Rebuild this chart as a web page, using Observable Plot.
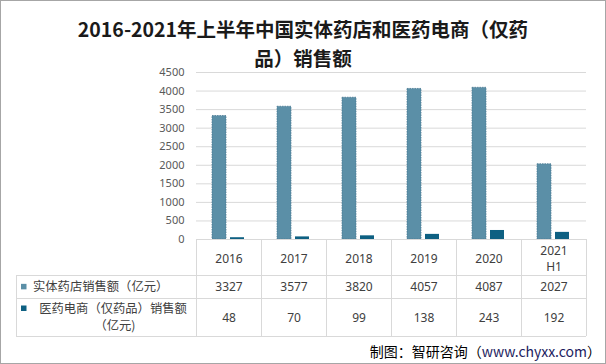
<!DOCTYPE html>
<html><head><meta charset="utf-8">
<script src="https://cdn.jsdelivr.net/npm/d3@7"></script>
<script src="https://cdn.jsdelivr.net/npm/@observablehq/plot@0.6"></script>
<style>
html,body{margin:0;padding:0;background:#fff;}
#wrap{position:relative;width:606px;height:364px;overflow:hidden;font-family:"Noto Sans CJK SC","Noto Sans",sans-serif;background:#fff;}
#chart{position:absolute;left:0;top:0;}
#border{position:absolute;left:0;top:0;width:606px;height:364px;box-sizing:border-box;border:1px solid #a6a6a6;pointer-events:none;}
#title{position:absolute;left:0;top:14px;width:606px;text-align:center;font-weight:700;font-size:19.5px;line-height:29px;color:#1a1a1a;}
#caption{position:absolute;right:5px;top:341px;font-size:14px;line-height:20px;color:#000;white-space:nowrap;}
#caption span{color:#1c1c60;}
</style></head>
<body>
<div id="wrap">
  <div id="chart"></div>
  <div id="title">2016-2021年上半年中国实体药店和医药电商（仅药<br>品）销售额</div>
  <div id="caption">制图：智研咨询（<span>www.chyxx.com</span>）</div>
  <div id="border"></div>
</div>
<script>
const years = ["2016", "2017", "2018", "2019", "2020", "2021H1"];
const yearLabels = ["2016", "2017", "2018", "2019", "2020", "2021\nH1"];
const seriesKeys = ["store", "ecom"];
const seriesNames = ["实体药店销售额（亿元）", "医药电商（仅药品）销售额\n（亿元)"];
const seriesColors = ["#5b8fa7", "#0e6082"];
const storeSales = [3327, 3577, 3820, 4057, 4087, 2027];
const ecomSales = [48, 70, 99, 138, 243, 192];
const yTicks = [0, 500, 1000, 1500, 2000, 2500, 3000, 3500, 4000, 4500];

const bars = years.flatMap((y, i) => [
  {year: y, series: "store", value: storeSales[i]},
  {year: y, series: "ecom", value: ecomSales[i]}
]);
const table = years.map((y, i) => ({year: y, label: yearLabels[i], store: storeSales[i], ecom: ecomSales[i]}));

const font = '"Noto Sans CJK SC","Noto Sans",sans-serif';
const numFont = '"Noto Sans","Open Sans",sans-serif';
const textColor = "#404040";
const cell = {fontFamily: numFont, fontSize: 12, fill: textColor, frameAnchor: "bottom", lineAnchor: "middle"};

const plot = Plot.plot({
  width: 606, height: 364,
  marginTop: 72, marginBottom: 125, marginLeft: 196, marginRight: 20,
  style: {fontFamily: font, fontSize: "11px", color: "#595959", background: "transparent"},
  fx: {domain: years, paddingInner: 0, paddingOuter: 0, axis: null, label: null},
  x: {domain: seriesKeys, paddingInner: 0.21, paddingOuter: 0.82, axis: null, label: null},
  y: {domain: [0, 4500], axis: null, label: null},
  color: {domain: seriesKeys, range: seriesColors},
  marks: [
    Plot.gridY(yTicks, {stroke: "#d9d9d9", strokeOpacity: 1}),
    Plot.axisY(yTicks, {anchor: "left", label: null, tickSize: 0, tickPadding: 12, tickFormat: d => String(d), fill: "#595959", fontSize: 11, fontFamily: numFont}),
    Plot.barY(bars.filter(d => d.series === "store"), {fx: "year", x: "series", y: "value", fill: "series", stroke: "#4a7a93", strokeWidth: 0.8, strokeDasharray: "1.5,1"}),
    Plot.barY(bars.filter(d => d.series === "ecom"), {fx: "year", x: "series", y: "value", fill: "series"}),
    Plot.text(table, {...cell, fx: "year", text: "label", dy: 18.7, lineHeight: 1.35}),
    Plot.text(table, {...cell, fx: "year", text: d => String(d.store), dy: 47.7}),
    Plot.text(table, {...cell, fx: "year", text: d => String(d.ecom), dy: 78.7})
  ]
});
document.getElementById("chart").appendChild(plot);

// data table grid and legend, positioned from the plot's own scales
const fx = plot.scale("fx");
const yS = plot.scale("y");
const svg = d3.select(plot);
const x0 = fx.apply(years[0]);
const x1 = fx.apply(years[years.length - 1]) + fx.bandwidth;
const yTop = yS.apply(0);
const rowLines = [yTop + 36.7, yTop + 59, yTop + 97.4];
const tableLeft = 16;
const g = svg.append("g").attr("stroke", "#d9d9d9").attr("stroke-width", 1).attr("shape-rendering", "crispEdges");
g.append("line").attr("x1", x0).attr("x2", x1).attr("y1", yTop).attr("y2", yTop);
rowLines.forEach(y => g.append("line").attr("x1", tableLeft).attr("x2", x1).attr("y1", y).attr("y2", y));
const bounds = years.map(y => fx.apply(y)).concat([x1]);
bounds.forEach(x => g.append("line").attr("x1", x).attr("x2", x).attr("y1", yTop).attr("y2", rowLines[2]));
g.append("line").attr("x1", tableLeft).attr("x2", tableLeft).attr("y1", rowLines[0]).attr("y2", rowLines[2]);

const lg = svg.append("g").attr("font-family", font).attr("font-size", 12.3).attr("fill", textColor);
// row 1
const r1 = (rowLines[0] + rowLines[1]) / 2;
lg.append("rect").attr("x", 21).attr("y", r1 - 3).attr("width", 5.5).attr("height", 5.5).attr("fill", seriesColors[0]);
lg.append("text").attr("x", 33).attr("y", r1).attr("dy", "0.35em").attr("text-anchor", "start").text(seriesNames[0]);
// row 2
const r2a = rowLines[1] + 10.5, r2b = rowLines[1] + 27.5;
lg.append("rect").attr("x", 21).attr("y", r2a - 3).attr("width", 5.5).attr("height", 5.5).attr("fill", seriesColors[1]);
const parts = seriesNames[1].split("\n");
lg.append("text").attr("x", 113).attr("y", r2a).attr("dy", "0.35em").attr("text-anchor", "middle").text(parts[0]);
lg.append("text").attr("x", 115).attr("y", r2b).attr("dy", "0.35em").attr("text-anchor", "middle").text(parts[1]);
</script>
</body></html>
